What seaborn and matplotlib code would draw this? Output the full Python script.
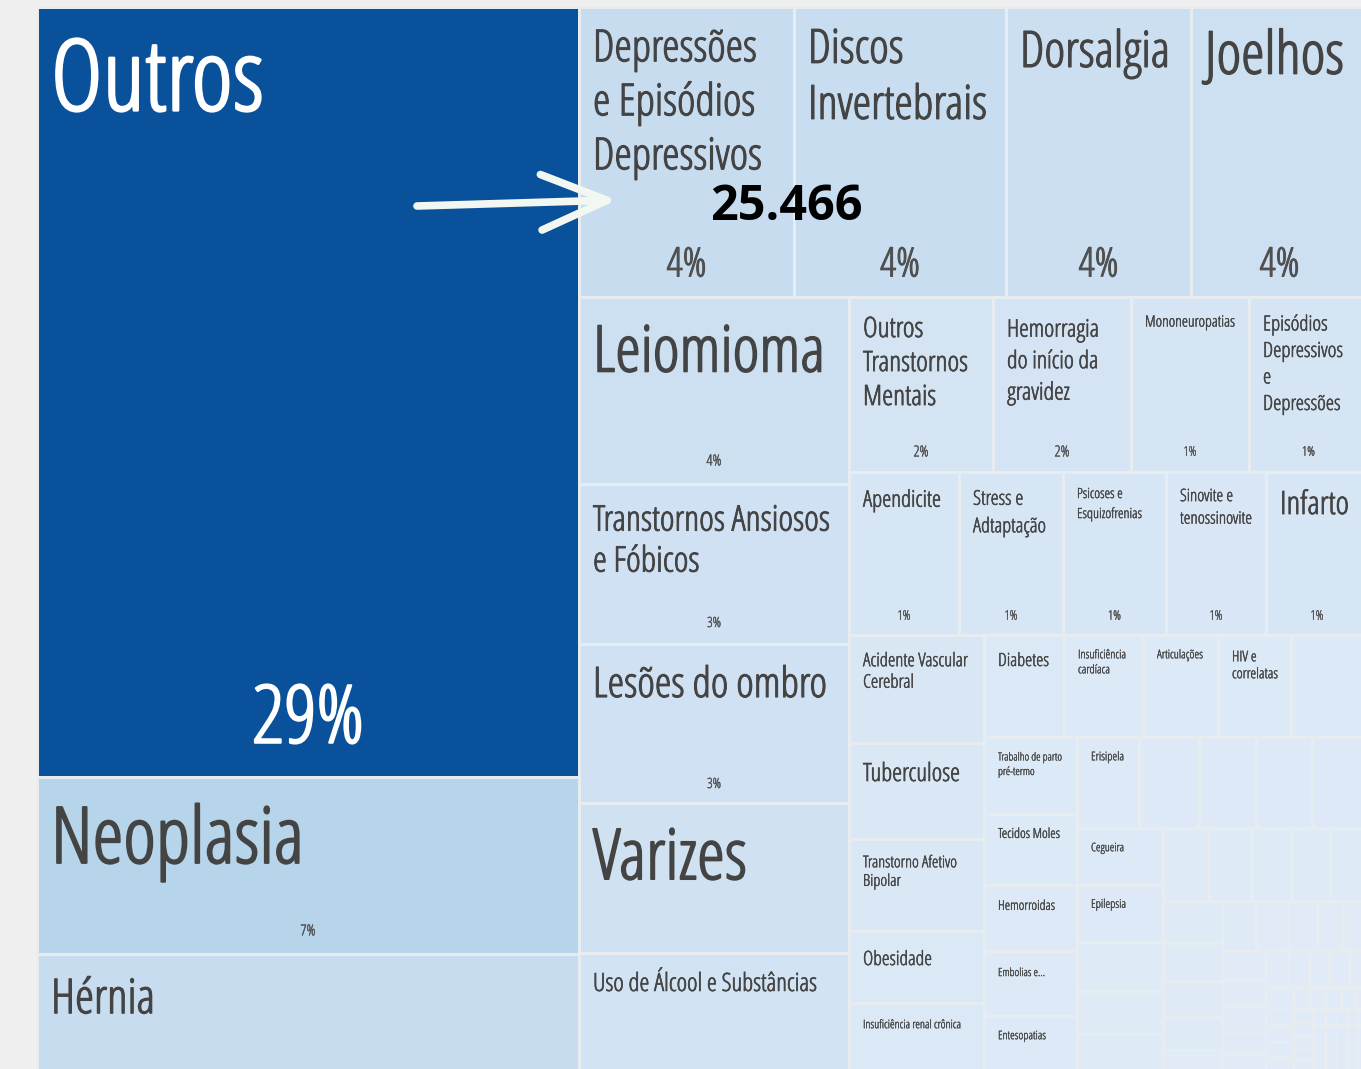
import matplotlib
matplotlib.use("Agg")
import matplotlib.pyplot as plt
import matplotlib.transforms as mtransforms
from matplotlib import font_manager as fm
from matplotlib import patheffects as pe
from matplotlib.ft2font import FT2Font
from matplotlib.textpath import TextToPath
from matplotlib.font_manager import FontProperties
from matplotlib.patches import Rectangle
from matplotlib.colors import LinearSegmentedColormap
import numpy as np
import pandas as pd
import seaborn as sns

# ---------------- data (number of cases per diagnosis group) ----------------
names = [
    "Outros", "Neoplasia", "Hérnia",
    "Depressões e Episódios Depressivos", "Discos Invertebrais", "Dorsalgia", "Joelhos",
    "Leiomioma", "Transtornos Ansiosos e Fóbicos", "Lesões do ombro", "Varizes",
    "Uso de Álcool e Substâncias",
    "Outros Transtornos Mentais", "Hemorragia do início da gravidez", "Mononeuropatias",
    "Episódios Depressivos e Depressões",
    "Apendicite", "Stress e Adtaptação", "Psicoses e Esquizofrenias",
    "Sinovite e tenossinovite", "Infarto",
    "Acidente Vascular Cerebral", "Tuberculose", "Transtorno Afetivo Bipolar", "Obesidade",
    "Insuficiência renal crônica",
    "Diabetes", "Insuficiência cardíaca", "Articulações", "HIV e correlatas",
    "Trabalho de parto pré-termo", "Tecidos Moles", "Hemorroidas", "Embolias e...",
    "Entesopatias",
    "Erisipela", "Cegueira", "Epilepsia",
]
cases = [
    170457, 39183, 26122,
    25466, 25111, 21913, 20965,
    20622, 17644, 17534, 16542,
    13123,
    10293, 9864, 8434,
    8506,
    7323, 6924, 6857,
    6657, 6791,
    5955, 5293, 5073, 3970,
    3805,
    3333, 3291, 3125, 3041,
    2925, 2697, 2507, 2469,
    2127,
    2304, 2002, 2002,
]
# small groups whose labels are not visible in the chart
tail_cases = [
    3208,
    2230, 2119, 2081, 2081,
    1721, 1510, 1335,
    1372, 1282, 1193, 1133, 1133,
    1012, 916, 868, 795, 530,
    694, 654, 592, 531, 511,
    521, 467, 467, 395, 323,
    323, 309, 294, 294, 279,
    232, 187, 187, 165, 165,
    153, 144, 135, 126, 117,
    114, 106, 98, 98, 98,
    78, 72, 72, 72, 65,
    230, 211, 211, 211, 192,
]
annot_name = "Depressões e Episódios Depressivos"

df = pd.DataFrame({"name": names, "cases": cases})
value_of = dict(zip(df["name"], df["cases"]))
total = df["cases"].sum() + sum(tail_cases)

# ---------------- treemap structure (slice & dice, alternating) ----------------
T = lambda a, b: list(range(a, b))
R = [T(48, 53), T(53, 58)]
Q = [T(43, 48), R]
P = [T(38, 43), Q]
O = [T(33, 38), P]
N = [T(28, 33), O]
M = [T(23, 28), N]
L = [T(18, 23), M]
K = [T(13, 18), L]
J = [T(8, 13), K]
I = [["Cegueira", "Epilepsia", 5, 6, 7], J]
H = [["Erisipela", 1, 2, 3, 4], I]
G = [["Trabalho de parto pré-termo", "Tecidos Moles", "Hemorroidas", "Embolias e...",
      "Entesopatias"], H]
F = [["Diabetes", "Insuficiência cardíaca", "Articulações", "HIV e correlatas", 0], G]
E = [["Acidente Vascular Cerebral", "Tuberculose", "Transtorno Afetivo Bipolar",
      "Obesidade", "Insuficiência renal crônica"], F]
D = [["Outros Transtornos Mentais", "Hemorragia do início da gravidez", "Mononeuropatias",
      "Episódios Depressivos e Depressões"],
     ["Apendicite", "Stress e Adtaptação", "Psicoses e Esquizofrenias",
      "Sinovite e tenossinovite", "Infarto"], E]
C = [["Leiomioma", "Transtornos Ansiosos e Fóbicos", "Lesões do ombro", "Varizes",
      "Uso de Álcool e Substâncias"], D]
B = [["Depressões e Episódios Depressivos", "Discos Invertebrais", "Dorsalgia", "Joelhos"], C]
tree = [["Outros", "Neoplasia", "Hérnia"], B]


def val(node):
    if isinstance(node, list):
        return sum(val(c) for c in node)
    if isinstance(node, str):
        return value_of[node]
    return tail_cases[node]


def layout(node, x, y, w, h, depth, out):
    if not isinstance(node, list):
        out.append((node, val(node), x, y, w, h))
        return
    tot = val(node)
    pos = 0.0
    for c in node:
        f = val(c) / tot
        if depth % 2 == 0:
            layout(c, x + pos * w, y, f * w, h, depth + 1, out)
        else:
            layout(c, x, y + pos * h, w, f * h, depth + 1, out)
        pos += f


rects = []
layout(tree, 0.0, 0.0, 1.0, 1.0, 0, rects)

# ---------------- label styles ----------------
wrap = {
    "Depressões e Episódios Depressivos": ["Depressões", "e Episódios", "Depressivos"],
    "Discos Invertebrais": ["Discos", "Invertebrais"],
    "Transtornos Ansiosos e Fóbicos": ["Transtornos Ansiosos", "e Fóbicos"],
    "Outros Transtornos Mentais": ["Outros", "Transtornos", "Mentais"],
    "Hemorragia do início da gravidez": ["Hemorragia", "do início da", "gravidez"],
    "Episódios Depressivos e Depressões": ["Episódios", "Depressivos", "e", "Depressões"],
    "Stress e Adtaptação": ["Stress e", "Adtaptação"],
    "Psicoses e Esquizofrenias": ["Psicoses e", "Esquizofrenias"],
    "Sinovite e tenossinovite": ["Sinovite e", "tenossinovite"],
    "Acidente Vascular Cerebral": ["Acidente Vascular", "Cerebral"],
    "Transtorno Afetivo Bipolar": ["Transtorno Afetivo", "Bipolar"],
    "Insuficiência cardíaca": ["Insuficiência", "cardíaca"],
    "HIV e correlatas": ["HIV e", "correlatas"],
    "Trabalho de parto pré-termo": ["Trabalho de parto", "pré-termo"],
}
# name: (width of widest line px, cap centre below tile top px, line step px)
label_style = {
    "Outros": (213, 68, 0), "Neoplasia": (253, 58, 0), "Hérnia": (104, 42, 0),
    "Depressões e Episódios Depressivos": (169, 38.5, 54),
    "Discos Invertebrais": (179, 39, 56), "Dorsalgia": (150, 42, 0), "Joelhos": (139, 45.5, 0),
    "Leiomioma": (232, 51.5, 0), "Transtornos Ansiosos e Fóbicos": (237, 34, 41),
    "Lesões do ombro": (234, 38, 0), "Varizes": (154, 51, 0),
    "Uso de Álcool e Substâncias": (224, 29, 0),
    "Outros Transtornos Mentais": (105, 30, 34),
    "Hemorragia do início da gravidez": (92, 31, 31.5),
    "Mononeuropatias": (90, 24, 0),
    "Episódios Depressivos e Depressões": (80, 26, 26.5),
    "Apendicite": (78, 26.5, 0), "Stress e Adtaptação": (73, 25.5, 27.5),
    "Psicoses e Esquizofrenias": (65, 21, 20), "Sinovite e tenossinovite": (72, 23, 22.5),
    "Infarto": (69, 30.5, 0),
    "Acidente Vascular Cerebral": (105, 24.5, 21.5), "Tuberculose": (97, 29, 0),
    "Transtorno Afetivo Bipolar": (94, 22.5, 18.5), "Obesidade": (69, 27, 0),
    "Insuficiência renal crônica": (98, 21, 0),
    "Diabetes": (51, 24.5, 0), "Insuficiência cardíaca": (48, 19, 15),
    "Articulações": (46, 19, 0), "HIV e correlatas": (46, 21, 17),
    "Trabalho de parto pré-termo": (64, 19.5, 14.5), "Tecidos Moles": (62, 19, 0),
    "Hemorroidas": (57, 20, 0), "Embolias e...": (47, 21, 0), "Entesopatias": (48, 19, 0),
    "Erisipela": (33, 19, 0), "Cegueira": (33, 19, 0), "Epilepsia": (35, 18.5, 0),
}
# name: (width of the percent text px, its cap centre above tile bottom px)
pct_style = {
    "Outros": (112, 63), "Neoplasia": (15, 24),
    "Depressões e Episódios Depressivos": (40, 35), "Discos Invertebrais": (40, 35),
    "Dorsalgia": (40, 35), "Joelhos": (40, 35),
    "Leiomioma": (15, 24), "Transtornos Ansiosos e Fóbicos": (14, 22),
    "Lesões do ombro": (14, 20),
    "Outros Transtornos Mentais": (15, 21), "Hemorragia do início da gravidez": (15, 21),
    "Mononeuropatias": (13, 21), "Episódios Depressivos e Depressões": (13, 21),
    "Apendicite": (13, 20), "Stress e Adtaptação": (13, 20), "Psicoses e Esquizofrenias": (13, 20),
    "Sinovite e tenossinovite": (13, 20), "Infarto": (13, 20),
}

# ---------------- pick the most condensed installed sans font ----------------
_ttp = TextToPath()


def _measure(s, prop):
    w, h, d = _ttp.get_text_width_height_descent(s, prop, ismath=False)
    return w, h, d


BASES = ("Noto Sans", "Roboto", "Liberation Sans", "DejaVu Sans", "Open Sans", "Lato", "Inter")
OK_TOKENS = {"Condensed", "ExtraCondensed", "SemiCondensed", "UltraCondensed", "Extra",
             "Semi", "Ultra", "Narrow", "Cond", "Display"}
best = None
for fe in fm.fontManager.ttflist:
    nm = fe.name
    base = next((b for b in BASES if nm == b or nm.startswith(b + " ")), None)
    if base is None or fe.style != "normal":
        continue
    rest = nm[len(base):].split()
    if any(t not in OK_TOKENS for t in rest):
        continue
    wt = fe.weight if isinstance(fe.weight, (int, float)) else fm.weight_dict.get(fe.weight, 400)
    if wt < 300 or wt > 400:
        continue
    try:
        cmap_chars = FT2Font(fe.fname).get_charmap()
        if not all(ord(c) in cmap_chars for c in "õçÁâéíôãÓ%"):
            continue
        pr = FontProperties(fname=fe.fname, size=100)
        wO = _measure("Outros", pr)[0]
        hH = _measure("H", pr)[1]
    except Exception:
        continue
    score = abs(wO / hH - 2.66) + (0.0 if wt == 400 else 0.25)
    if best is None or score < best[0]:
        best = (score, fe.fname, wt)

FONT_FILE = best[1] if best else fm.findfont("DejaVu Sans")
FONT_WT = best[2] if best else 400
ref_prop = FontProperties(fname=FONT_FILE, size=100)
CAP100 = _measure("H", ref_prop)[1]          # cap height (pt) at 100 pt
# light faces get a thin outline of the same colour to reach a regular weight
THICKEN = 0.035 if FONT_WT < 400 else 0.0


def size_for(text, width_px):
    return 100.0 * width_px / (_measure(text, ref_prop)[0] * 100.0 / 72.0)


def cap_px(fs):
    return CAP100 * fs / 100.0 * 100.0 / 72.0


def effects(fs, col):
    lw = THICKEN * cap_px(fs) * 72.0 / 100.0
    if lw <= 0:
        return []
    return [pe.withStroke(linewidth=lw, foreground=col)]


vmax = max(cases)
cmap = LinearSegmentedColormap.from_list(
    "tm",
    [(0.0, "#e0ebf7"), (8000 / vmax, "#d5e5f4"), (20000 / vmax, "#cde0f1"),
     (26000 / vmax, "#c7dcef"), (39000 / vmax, "#b6d5ea"), (1.0, "#0a519b")])
GAP = "#e7ecf1"
PAD = 14

# ---------------- figure ----------------
sns.set_theme(style="white")
plt.rcParams["font.family"] = ["DejaVu Sans"]

fig = plt.figure(figsize=(13.61, 10.69), dpi=100, facecolor="#efefef")
ax = fig.add_axes([37 / 1361, -3 / 1069, 1331 / 1361, 1065 / 1069])
ax.set_xlim(0, 1)
ax.set_ylim(1, 0)
ax.axis("off")

for key, v, x, y, w, h in rects:
    ax.add_patch(Rectangle((x, y), w, h, facecolor=cmap(v / vmax), edgecolor=GAP,
                           linewidth=2.16))
    if not isinstance(key, str):
        continue
    dark = v / vmax > 0.5
    tcol = "white" if dark else "#444444"
    tw, cen, step = label_style[key]
    lines = wrap.get(key, [key])
    widest = max(lines, key=lambda s: _measure(s, ref_prop)[0])
    fs = size_for(widest, tw)
    base = cen + cap_px(fs) / 2.0
    fp = FontProperties(fname=FONT_FILE, size=fs)
    for i, line in enumerate(lines):
        ax.annotate(line, xy=(x, y), xytext=(PAD, -(base + i * step)),
                    textcoords="offset pixels", ha="left", va="baseline",
                    fontproperties=fp, color=tcol, path_effects=effects(fs, tcol))
    if key in pct_style:
        pw, pc = pct_style[key]
        ptxt = f"{round(100 * v / total)}%"
        pfs = size_for(ptxt, pw)
        pcol = "white" if dark else "#505050"
        ax.annotate(ptxt, xy=(x + w / 2, y + h),
                    xytext=(0, pc - cap_px(pfs) / 2.0), textcoords="offset pixels",
                    ha="center", va="baseline",
                    fontproperties=FontProperties(fname=FONT_FILE, size=pfs),
                    color=pcol, path_effects=effects(pfs, pcol))

# highlight annotation
ann = [r for r in rects if r[0] == annot_name][0]
_, av, ax0, ay0, _, _ = ann
tip = mtransforms.offset_copy(ax.transData, fig=fig, x=38, y=-193, units="dots")
ax.annotate("", xy=(ax0, ay0), xycoords=tip, xytext=(-200, -6),
            textcoords="offset pixels",
            arrowprops=dict(arrowstyle="->,head_length=0.95,head_width=0.4",
                            mutation_scale=50, lw=5.5, color="#f2f7f2",
                            capstyle="round", shrinkA=0, shrinkB=0))
ax.annotate(f"{av:,}".replace(",", "."), xy=(ax0, ay0), xytext=(207, -213),
            textcoords="offset pixels", ha="center", va="baseline", fontsize=35,
            fontweight="bold", family=["Open Sans", "DejaVu Sans"], color="black")

fig.savefig("out.png", dpi=100, facecolor=fig.get_facecolor())
